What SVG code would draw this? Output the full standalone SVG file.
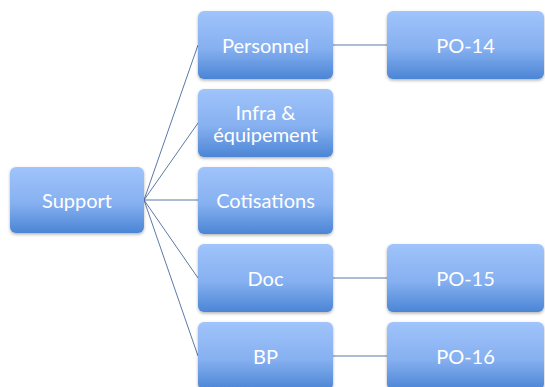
<svg xmlns="http://www.w3.org/2000/svg" width="545" height="387" viewBox="0 0 545 387">
  <defs>
    <linearGradient id="boxFill" x1="0" y1="0" x2="0" y2="1">
      <stop offset="0" stop-color="#a0c4fb"/>
      <stop offset="0.55" stop-color="#86b0f0"/>
      <stop offset="1" stop-color="#4b85d5"/>
    </linearGradient>
    <filter id="shadow" x="-10%" y="-10%" width="120%" height="130%">
      <feDropShadow dx="0" dy="1.5" stdDeviation="1.5" flood-color="#000" flood-opacity="0.3"/>
    </filter>
  </defs>
  <style>
    .box { fill: url(#boxFill); filter: url(#shadow); }
    .label { fill: #ffffff; font-family: Lato, "Open Sans", "Liberation Sans", sans-serif; font-size: 20px; text-anchor: middle; dominant-baseline: central; }
    .link { stroke: #5b7aa6; stroke-width: 1; fill: none; }
  </style>

  <g id="connectors">
    <line class="link" x1="144" y1="200" x2="198" y2="45"/>
    <line class="link" x1="144" y1="200" x2="198" y2="123"/>
    <line class="link" x1="144" y1="200" x2="198" y2="200"/>
    <line class="link" x1="144" y1="200" x2="198" y2="278"/>
    <line class="link" x1="144" y1="200" x2="198" y2="356"/>
    <line class="link" x1="333" y1="45" x2="387" y2="45"/>
    <line class="link" x1="333" y1="278" x2="387" y2="278" stroke="#8fa8c8"/>
    <line class="link" x1="333" y1="356" x2="387" y2="356" stroke="#8fa8c8"/>
  </g>

  <g id="support">
    <rect class="box" x="10" y="167" width="134" height="66" rx="6"/>
    <text class="label" x="77" y="200">Support</text>
  </g>
  <g id="personnel">
    <rect class="box" x="198" y="11" width="135" height="68" rx="6"/>
    <text class="label" x="265.5" y="45">Personnel</text>
  </g>
  <g id="infra">
    <rect class="box" x="198" y="89" width="135" height="68" rx="6"/>
    <text class="label" x="265.5" y="112">Infra &amp;</text>
    <text class="label" x="265.5" y="134">équipement</text>
  </g>
  <g id="cotisations">
    <rect class="box" x="198" y="167" width="135" height="67" rx="6"/>
    <text class="label" x="265.5" y="200">Cotisations</text>
  </g>
  <g id="doc">
    <rect class="box" x="198" y="244" width="135" height="68" rx="6"/>
    <text class="label" x="265.5" y="278">Doc</text>
  </g>
  <g id="bp">
    <rect class="box" x="198" y="322" width="135" height="68" rx="6"/>
    <text class="label" x="265.5" y="356">BP</text>
  </g>
  <g id="po14">
    <rect class="box" x="387" y="11" width="157" height="68" rx="6"/>
    <text class="label" x="465.5" y="45">PO-14</text>
  </g>
  <g id="po15">
    <rect class="box" x="387" y="244" width="157" height="68" rx="6"/>
    <text class="label" x="465.5" y="278">PO-15</text>
  </g>
  <g id="po16">
    <rect class="box" x="387" y="322" width="157" height="68" rx="6"/>
    <text class="label" x="465.5" y="356">PO-16</text>
  </g>
</svg>
